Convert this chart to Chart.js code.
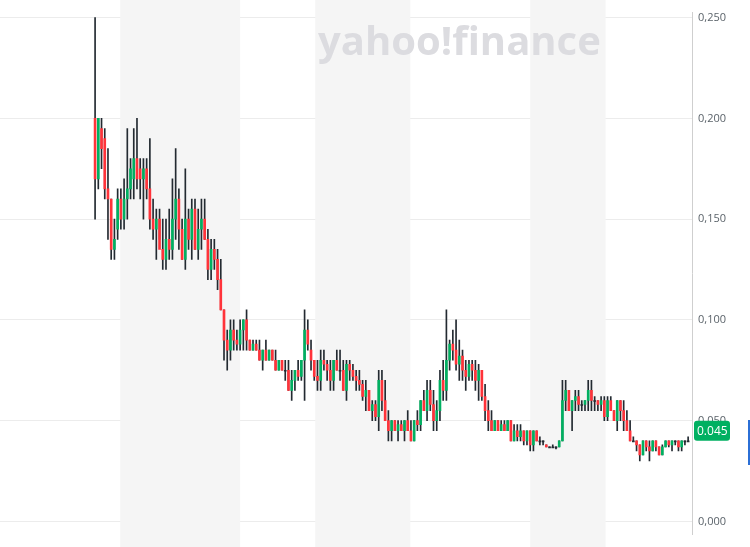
<!DOCTYPE html>
<html><head><meta charset="utf-8">
<script src="https://cdn.jsdelivr.net/npm/chart.js@4/dist/chart.umd.min.js"></script>
<style>html,body{margin:0;padding:0;background:#fff}#w{width:750px;height:547px}</style>
</head><body><div id="w"><canvas id="c"></canvas></div>
<script>
// prices in thousandths: [open, high, low, close]
const ohlc = [
[200,250,150,170],[170,200,165,200],[195,200,175,185],[190,195,160,165],[165,185,140,160],[160,160,130,135],[135,150,130,140],[145,165,140,160],[160,165,145,150],[150,170,145,160],
[160,195,150,165],[165,180,160,175],[170,195,160,180],[180,200,165,170],[175,180,160,170],[170,180,150,175],[175,180,160,165],[165,190,145,150],[150,160,140,145],[145,155,130,150],
[150,155,140,135],[135,150,125,130],[130,150,125,140],[140,155,130,135],[135,170,130,150],[150,185,140,160],[160,165,135,145],[145,150,130,130],[130,175,125,150],[150,155,135,140],
[140,160,130,155],[155,160,135,135],[135,155,130,145],[145,160,135,150],[150,160,140,140],[140,145,120,125],[125,140,120,135],[135,140,125,130],[130,135,115,120],[120,130,105,105],
[105,105,80,90],[90,95,75,85],[85,100,80,95],[95,100,85,90],[90,95,85,88],[88,100,85,95],[95,100,85,100],[100,105,85,90],[90,90,85,85],[85,90,85,88],
[88,90,85,85],[85,90,80,80],[80,85,75,85],[85,90,80,80],[80,85,80,85],[85,85,80,80],[80,85,75,75],[75,80,75,80],[80,80,75,75],[75,80,70,75],
[75,80,65,65],[65,75,60,70],[70,75,65,75],[75,80,70,72],[72,80,70,80],[80,105,60,95],[95,100,85,88],[85,90,75,80],[80,80,70,72],[72,80,65,70],
[70,85,65,80],[80,85,75,78],[78,80,70,75],[75,80,65,70],[70,80,65,80],[80,85,75,75],[75,85,70,75],[75,80,65,65],[65,80,60,78],[78,80,70,75],
[75,78,70,72],[72,75,65,70],[70,75,65,68],[68,70,60,62],[62,70,55,65],[65,65,55,55],[55,60,50,58],[58,60,50,52],[52,75,45,70],[70,75,55,60],
[60,70,50,50],[50,55,40,45],[45,50,40,50],[50,50,45,45],[45,50,40,48],[48,50,45,45],[45,50,40,50],[50,55,45,45],[45,50,40,40],[40,50,40,50],
[50,55,45,48],[48,60,45,60],[60,65,55,55],[55,70,50,65],[65,70,55,58],[58,65,45,50],[50,60,45,55],[55,75,50,70],[70,80,60,65],[65,105,60,80],
[80,90,75,88],[88,95,80,85],[85,100,75,78],[78,90,70,82],[82,85,70,75],[75,80,65,72],[72,80,70,78],[78,80,70,75],[75,80,65,70],[70,78,60,75],
[75,75,60,62],[62,68,50,55],[55,60,45,50],[50,55,45,45],[45,50,45,50],[50,50,45,45],[45,50,45,48],[48,50,45,45],[45,50,45,50],[50,50,40,40],
[40,48,40,45],[45,48,40,42],[42,48,40,45],[45,45,38,40],[40,45,38,45],[45,45,35,38],[38,45,35,45],[45,45,40,40],[40,42,38,40],[40,40,38,40],
[38,38,37,37],[37,37,37,37],[37,38,37,37],[37,37,36,37],[37,40,37,40],[40,70,40,60],[60,70,55,65],[65,65,55,55],[55,60,45,60],[60,65,55,62],
[62,65,55,58],[58,60,55,58],[58,60,55,60],[60,70,55,65],[65,70,55,60],[60,62,55,60],[60,60,55,58],[58,62,55,60],[60,62,50,52],[52,62,50,60],
[60,62,55,55],[55,55,50,50],[50,60,45,60],[60,60,50,55],[55,60,45,50],[50,55,45,45],[45,50,40,40],[40,42,40,40],[40,40,35,38],[38,38,30,33],
[33,40,33,40],[40,40,35,37],[37,40,30,35],[35,40,35,40],[40,40,35,37],[37,37,33,33],[33,38,33,37],[37,40,37,40],[40,40,37,38],[38,40,35,40],
[40,40,38,40],[40,40,35,37],[37,40,35,40],[40,40,38,40],[40,42,40,40]
];
const yTicks = [0, 0.05, 0.1, 0.15, 0.2, 0.25];
const shadedRanges = [[7.8,45],[68.3,97.8],[135,158.4]];
const lastPrice = 0.045;

const GREEN='#00b061', RED='#ff333a', DARK='#232a31';
const wicks = ohlc.map((d,i)=>({x:i,y:[d[2]/1000,d[1]/1000]}));
const bodies = ohlc.map((d,i)=>({x:i,y:[Math.min(d[0],d[3])/1000,Math.max(d[0],d[3])/1000]}));
const bodyColors = ohlc.map(d=> d[3]>d[0]?GREEN:(d[3]<d[0]?RED:DARK));

const bg = {id:'bg',beforeDatasetsDraw(ch){
  const {ctx,chartArea:a,scales:{x}}=ch; ctx.save(); ctx.fillStyle='#f5f5f5';
  shadedRanges.forEach(r=>{const x0=x.getPixelForValue(r[0]),x1=x.getPixelForValue(r[1]);ctx.fillRect(x0,0,x1-x0,547);});
  ctx.font='bold 40px "Open Sans", Roboto, sans-serif'; ctx.fillStyle='#dcdce0'; ctx.textBaseline='middle';
  ctx.fillText('yahoo!finance',318,44); ctx.restore();
}};
const tag = {id:'tag',afterDraw(ch){
  const {ctx,chartArea:a,scales:{y}}=ch; const py=y.getPixelForValue(lastPrice);
  ctx.save(); ctx.fillStyle=GREEN; const x0=a.right+2;
  ctx.beginPath(); ctx.roundRect(x0,py-10,36,20,3); ctx.fill();
  ctx.fillStyle='#fff'; ctx.font='12px "Open Sans", sans-serif'; ctx.textBaseline='middle'; ctx.fillText('0.045',x0+3,py+1);
  ctx.fillStyle='#2b6fd6'; ctx.fillRect(748,420,2,45); ctx.restore();
}};

new Chart(document.getElementById('c'),{
  type:'bar',
  data:{datasets:[
    {data:wicks,backgroundColor:DARK,barThickness:1,grouped:false,order:2},
    {data:bodies,backgroundColor:bodyColors,barThickness:2,grouped:false,minBarLength:1,order:1}
  ]},
  options:{animation:false,responsive:true,maintainAspectRatio:false,
    layout:{padding:0},
    plugins:{legend:{display:false},tooltip:{enabled:false}},
    scales:{
      x:{type:'linear',offset:false,min:-29.5,max:185.2,display:false,grid:{display:false}},
      y:{position:'right',min:-0.00644,max:0.2525,
        afterBuildTicks(s){s.ticks=yTicks.map(v=>({value:v}));},
        afterFit(s){s.width=58;},
        grid:{color:'#ececec',drawTicks:false},
        border:{color:'#cfcfcf'},
        ticks:{padding:6,color:'#5b636a',font:{size:11,family:'"Open Sans", sans-serif'},
          callback:v=>v.toFixed(3).replace('.',',')}
      }
    }
  },
  plugins:[bg,tag]
});
</script></body></html>
